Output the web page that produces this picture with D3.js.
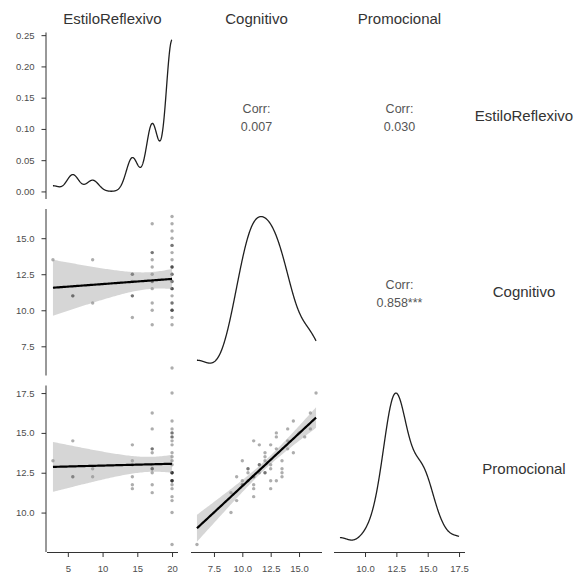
<!DOCTYPE html>
<html>
<head>
<meta charset="utf-8">
<script src="https://cdn.jsdelivr.net/npm/d3@7"></script>
<style>
  html, body { margin: 0; padding: 0; background: #fff; }
  svg { display: block; }
</style>
</head>
<body>
<script>
// Variables of the pairs matrix, in display order
const variables = ["EstiloReflexivo", "Cognitivo", "Promocional"];

// Scores per respondent (one entry per respondent, same order in every array)
const estiloReflexivo = [
  2.857,
  5.714, 5.714, 5.714,
  8.571, 8.571,
  14.286, 14.286, 14.286, 14.286, 14.286, 14.286,
  17.143, 17.143, 17.143, 17.143, 17.143, 17.143, 17.143, 17.143, 17.143, 17.143, 17.143, 17.143,
  20, 20, 20, 20, 20, 20, 20, 20, 20, 20, 20, 20, 20, 20, 20, 20, 20, 20, 20, 20, 20, 20, 20, 20, 20, 20, 20
];
const cognitivo = [
  13.5,
  11, 11, 11,
  13.5, 10.5,
  12.5, 12.5, 12, 11, 11, 9.5,
  16, 14, 14, 13.5, 13, 12.5, 12, 12, 11.5, 10.5, 10, 9,
  16.5, 16, 15.5, 15, 14.5, 14.5, 14, 13.5, 13, 13, 13, 12.5, 12.5, 12, 12, 11.5, 11.5, 11.5, 11, 10.5, 10.5, 10, 10, 10, 9.5, 9, 6
];
const promocional = [
  13.25,
  14.5, 12.25, 12.25,
  12.25, 12.75,
  14.25, 13, 13.25, 11.75, 11.5, 12.25,
  16.25, 15.25, 14, 12.75, 14, 12.75, 13.75, 12.5, 13, 12.75, 11.75, 11.25,
  17.5, 15.25, 14.75, 15, 15.75, 13.75, 14.5, 12.5, 14.75, 15, 12, 11.5, 12, 12.5, 13.5, 14.25, 12.5, 13, 11, 12.5, 12, 12, 11.75, 13.25, 10.75, 10, 8
];

// Correlation labels for the upper triangle: [row, column, text]
const corrCells = [
  [0, 1, "0.007"],
  [0, 2, "0.030"],
  [1, 2, "0.858***"]
];

// Axis tick values
const densityTicks = [0, 0.05, 0.10, 0.15, 0.20, 0.25];
const ticksEstilo = [5, 10, 15, 20];
const ticksCognitivo = [7.5, 10, 12.5, 15];
const ticksPromocional = [10, 12.5, 15, 17.5];

// Two-sided 95% t quantile for n - 2 = 49 degrees of freedom
const tCrit = 2.0096;

const columns = [estiloReflexivo, cognitivo, promocional];
const tickSets = [ticksEstilo, ticksCognitivo, ticksPromocional];
const tickFormats = [d3.format("d"), d3.format(".1f"), d3.format(".1f")];

const width = 577, height = 577;
const panelW = 131, panelH = 166.5;
const colX = [47, 191, 334];
const rowY = [32.5, 209, 385.5];
const tickLen = 4.5;
const font = "'Liberation Sans', Arial, sans-serif";

const svg = d3.select("body").append("svg")
  .attr("width", width).attr("height", height)
  .style("font-family", font);

// Padded linear domain, like ggplot's default 5% expansion
function padded(extent) {
  const pad = (extent[1] - extent[0]) * 0.05;
  return [extent[0] - pad, extent[1] + pad];
}

const xScales = columns.map((v, i) => d3.scaleLinear()
  .domain(padded(d3.extent(v))).range([colX[i], colX[i] + panelW]));
const yScales = columns.map((v, i) => d3.scaleLinear()
  .domain(padded(d3.extent(v))).range([rowY[i] + panelH, rowY[i]]));

// Gaussian kernel density with R's bw.nrd0 bandwidth
function kde(values, n = 512) {
  const sorted = values.slice().sort(d3.ascending);
  const sd = d3.deviation(sorted);
  const iqr = d3.quantileSorted(sorted, 0.75) - d3.quantileSorted(sorted, 0.25);
  let lo = Math.min(sd, iqr / 1.34);
  if (!(lo > 0)) lo = sd || Math.abs(sorted[0]) || 1;
  const bw = 0.9 * lo * Math.pow(sorted.length, -0.2);
  const [mn, mx] = d3.extent(sorted);
  const norm = 1 / (sorted.length * bw * Math.sqrt(2 * Math.PI));
  return d3.range(n).map(k => {
    const x = mn + (mx - mn) * k / (n - 1);
    let s = 0;
    for (const v of sorted) { const z = (x - v) / bw; s += Math.exp(-0.5 * z * z); }
    return [x, s * norm];
  });
}

// Least squares fit with 95% confidence band
function linearFit(xs, ys, n = 80) {
  const mx = d3.mean(xs), my = d3.mean(ys);
  let sxx = 0, sxy = 0;
  xs.forEach((x, i) => { sxx += (x - mx) ** 2; sxy += (x - mx) * (ys[i] - my); });
  const b = sxy / sxx, a = my - b * mx;
  let sse = 0;
  xs.forEach((x, i) => { sse += (ys[i] - (a + b * x)) ** 2; });
  const s = Math.sqrt(sse / (xs.length - 2));
  const [x0, x1] = d3.extent(xs);
  return d3.range(n).map(k => {
    const x = x0 + (x1 - x0) * k / (n - 1);
    const fit = a + b * x;
    const se = s * Math.sqrt(1 / xs.length + (x - mx) ** 2 / sxx);
    return { x, fit, lo: fit - tCrit * se, hi: fit + tCrit * se };
  });
}

const densities = columns.map(v => kde(v));
const densityScales = densities.map((d, i) => {
  const m = d3.max(d, p => p[1]);
  return d3.scaleLinear().domain([-0.05 * m, 1.05 * m]).range([rowY[i] + panelH, rowY[i]]);
});

const ink = "#333333";
const tickText = "#4d4d4d";

// Diagonal: density curves
densities.forEach((dens, i) => {
  const line = d3.line().x(p => xScales[i](p[0])).y(p => densityScales[i](p[1]));
  svg.append("path").datum(dens)
    .attr("d", line).attr("fill", "none")
    .attr("stroke", "#1f1f1f").attr("stroke-width", 1.3);
});

// Lower triangle: scatter with linear fit
for (let r = 1; r < 3; r++) {
  for (let c = 0; c < r; c++) {
    const xs = columns[c], ys = columns[r];
    const xS = xScales[c], yS = yScales[r];
    const g = svg.append("g");
    g.selectAll("circle").data(xs.map((x, i) => [x, ys[i]])).join("circle")
      .attr("cx", d => xS(d[0])).attr("cy", d => yS(d[1]))
      .attr("r", 1.7).attr("fill", "#000").attr("fill-opacity", 0.32);
    const fit = linearFit(xs, ys);
    g.append("path").datum(fit)
      .attr("d", d3.area().x(d => xS(d.x)).y0(d => yS(d.lo)).y1(d => yS(d.hi)))
      .attr("fill", "#999999").attr("fill-opacity", 0.4);
    g.append("path").datum(fit)
      .attr("d", d3.line().x(d => xS(d.x)).y(d => yS(d.fit)))
      .attr("fill", "none").attr("stroke", "#000").attr("stroke-width", 2.2);
  }
}

// Upper triangle: correlation text
corrCells.forEach(([r, c, txt]) => {
  const cx = colX[c] + panelW / 2, cy = rowY[r] + panelH / 2;
  const t = svg.append("text").attr("text-anchor", "middle")
    .attr("fill", "#555").style("font-size", "12.5px");
  t.append("tspan").attr("x", cx).attr("y", cy - 3).text("Corr:");
  t.append("tspan").attr("x", cx).attr("y", cy + 15).text(txt);
});

// Left axes (first column)
for (let r = 0; r < 3; r++) {
  const scale = r === 0 ? densityScales[0] : yScales[r];
  const ticks = r === 0 ? densityTicks : tickSets[r];
  const fmt = r === 0 ? d3.format(".2f") : tickFormats[r];
  const ax = svg.append("g").attr("transform", `translate(${colX[0] - 1},0)`);
  ax.call(d3.axisLeft(scale).tickValues(ticks).tickFormat(fmt).tickSize(tickLen).tickPadding(7));
  ax.select(".domain").attr("d", `M0,${rowY[r]}V${rowY[r] + panelH}`).attr("stroke", ink);
  ax.selectAll(".tick line").attr("stroke", ink);
  ax.selectAll(".tick text").attr("fill", tickText).style("font-size", "9.5px")
    .style("font-family", font);
}

// Bottom axes (last row)
for (let c = 0; c < 3; c++) {
  const ax = svg.append("g").attr("transform", `translate(0,${rowY[2] + panelH + 0.5})`);
  ax.call(d3.axisBottom(xScales[c]).tickValues(tickSets[c]).tickFormat(tickFormats[c]).tickSize(tickLen).tickPadding(8));
  ax.select(".domain").attr("d", `M${colX[c]},0H${colX[c] + panelW}`).attr("stroke", ink);
  ax.selectAll(".tick line").attr("stroke", ink);
  ax.selectAll(".tick text").attr("fill", tickText).style("font-size", "9.5px")
    .style("font-family", font);
}

// Strip labels: top and right
variables.forEach((name, i) => {
  svg.append("text").attr("x", colX[i] + panelW / 2).attr("y", 24)
    .attr("text-anchor", "middle").attr("fill", ink).style("font-size", "15px").text(name);
  svg.append("text").attr("x", 524).attr("y", rowY[i] + panelH / 2 + 5)
    .attr("text-anchor", "middle").attr("fill", ink).style("font-size", "15px").text(name);
});
</script>
</body>
</html>
